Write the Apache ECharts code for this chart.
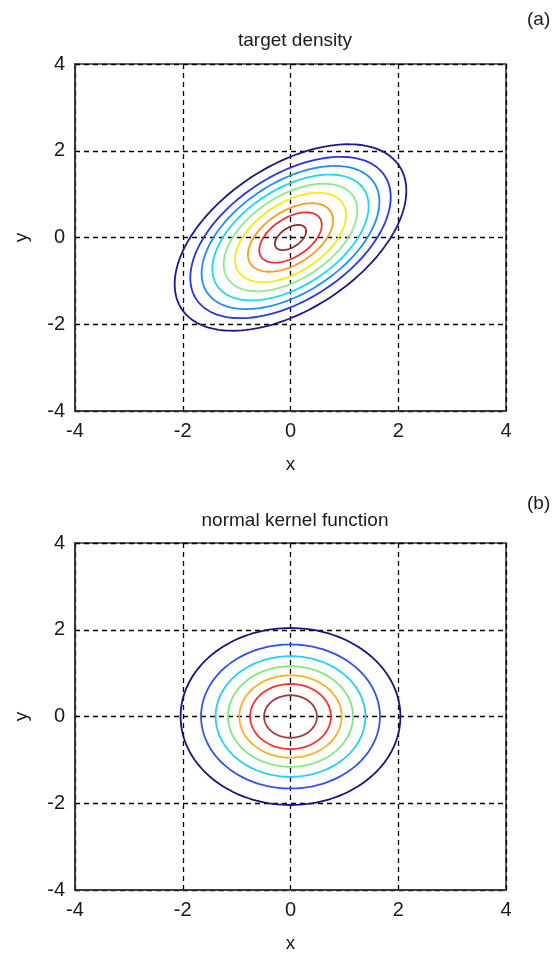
<!DOCTYPE html>
<html>
<head>
<meta charset="utf-8">
<title>target density / normal kernel function</title>
<script src="https://cdn.jsdelivr.net/npm/echarts@6/dist/echarts.min.js"></script>
<style>
  html, body { margin: 0; padding: 0; background: #fff; }
  #chart { width: 557px; height: 957px; }
</style>
</head>
<body>
<div id="chart"></div>
<script>
// Axis ticks shared by both panels
const tickValues = [-4, -2, 0, 2, 4];

// (a) target density: correlated bivariate normal, contour radii (Mahalanobis units)
const titleA = 'target density';
const centerA = [0, 0];
const rhoA = 0.5;
const radiiA = [2.15, 1.86, 1.65, 1.45, 1.24, 1.03, 0.79, 0.58, 0.29];
const coloursA = ['#1a1a8a', '#2a35e0', '#1e8cff', '#1ad8f0', '#8ee88e', '#f2ec10', '#ff9a1e', '#f03030', '#8a3030'];

// (b) normal kernel function: independent normal, contour radii
const titleB = 'normal kernel function';
const centerB = [0, 0];
const rhoB = 0;
const radiiB = [2.04, 1.66, 1.39, 1.16, 0.95, 0.75, 0.49];
const coloursB = ['#14147a', '#3050f0', '#20d0f8', '#80e880', '#ffb020', '#ff3030', '#a03838'];

const FONT = '"Liberation Sans", Arial, sans-serif';
const TEXT = '#1a1a1a';

const grids = [
  { left: 75, top: 64, width: 431, height: 347 },
  { left: 75, top: 543, width: 431, height: 347 }
].map(g => Object.assign(g, { show: true, borderColor: '#333', borderWidth: 1.6, backgroundColor: 'transparent' }));

function axis(gridIndex, name, isY) {
  return {
    type: 'value', gridIndex,
    min: tickValues[0], max: tickValues[tickValues.length - 1], interval: 2,
    name, nameLocation: 'middle', nameGap: isY ? 44 : 44, nameRotate: isY ? 90 : 0,
    nameTextStyle: { fontFamily: FONT, fontSize: 19, color: TEXT },
    axisLine: { show: true, onZero: false, lineStyle: { color: '#333', width: 1.6 } },
    axisTick: { show: false },
    axisLabel: { fontFamily: FONT, fontSize: 20, color: TEXT, margin: 10 },
    splitLine: { show: true, lineStyle: { color: '#000', width: 1.3, type: [5, 4] } }
  };
}

// Each data item is one contour: [centre x, centre y, radius]
function contourSeries(idx, center, rho, radii, colours) {
  return {
    type: 'custom', xAxisIndex: idx, yAxisIndex: idx, clip: true, z: 5,
    data: radii.map((r, i) => ({ value: [center[0], center[1], r], itemStyle: { color: colours[i] } })),
    encode: { x: 0, y: 1 },
    renderItem(params, api) {
      const cx = api.value(0), cy = api.value(1), r = api.value(2);
      const s = Math.sqrt(1 - rho * rho);
      const pts = [];
      const n = 160;
      for (let i = 0; i <= n; i++) {
        const t = i / n * 2 * Math.PI;
        const c = Math.cos(t), sn = Math.sin(t);
        pts.push(api.coord([cx + r * c, cy + r * (rho * c + s * sn)]));
      }
      return {
        type: 'polyline',
        shape: { points: pts },
        style: { stroke: api.visual('color'), lineWidth: 1.8, fill: null }
      };
    }
  };
}

const chart = echarts.init(document.getElementById('chart'), null, { renderer: 'canvas' });
chart.setOption({
  animation: false,
  backgroundColor: '#fff',
  title: [
    { text: titleA, left: 290, top: 26, textAlign: 'center', textStyle: { fontFamily: FONT, fontSize: 19, fontWeight: 'normal', color: TEXT } },
    { text: titleB, left: 290, top: 506, textAlign: 'center', textStyle: { fontFamily: FONT, fontSize: 19, fontWeight: 'normal', color: TEXT } }
  ],
  graphic: [
    { type: 'text', left: 527, top: 10, style: { text: '(a)', font: '19px ' + FONT, fill: TEXT } },
    { type: 'text', left: 527, top: 494, style: { text: '(b)', font: '19px ' + FONT, fill: TEXT } }
  ],
  grid: grids,
  xAxis: [axis(0, 'x', false), axis(1, 'x', false)],
  yAxis: [axis(0, 'y', true), axis(1, 'y', true)],
  series: [
    contourSeries(0, centerA, rhoA, radiiA, coloursA),
    contourSeries(1, centerB, rhoB, radiiB, coloursB)
  ]
});
</script>
</body>
</html>
